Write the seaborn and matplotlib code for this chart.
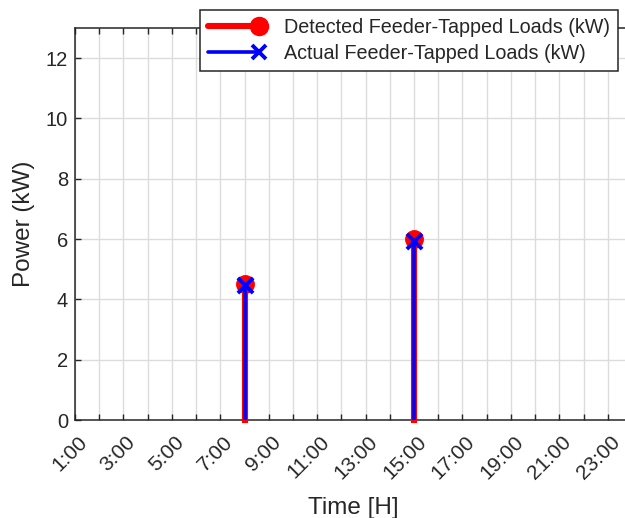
import numpy as np
import pandas as pd
import seaborn as sns
import matplotlib.pyplot as plt
from matplotlib.lines import Line2D
from matplotlib.legend_handler import HandlerLine2D
from matplotlib.transforms import ScaledTranslation

# data
hours = [8, 15]
detected_kw = [4.5, 6.0]
actual_kw = [4.48, 5.95]
tick_hours = list(range(1, 25))
tick_labels = [f"{h}:00" if h % 2 == 1 else "" for h in tick_hours]
legend_labels = ["Detected Feeder-Tapped Loads (kW)", "Actual Feeder-Tapped Loads (kW)"]


class StemHandler(HandlerLine2D):
    # matlab style stem legend: marker at the right end of the line
    def create_artists(self, *args, **kwargs):
        artists = super().create_artists(*args, **kwargs)
        artists[0].set_markevery([2])
        return artists


sns.set_theme(style="whitegrid")
plt.rcParams['font.family'] = ['Liberation Sans', 'DejaVu Sans']
dark = '#262626'

fig = plt.figure(figsize=(6.25, 5.18), dpi=100)
# axes runs a bit past the right edge of the figure, like the reference
ax = fig.add_axes([75 / 625, 1 - 420 / 518, 557 / 625, 392 / 518])

df_det = pd.DataFrame({"hour": hours, "kw": detected_kw})
df_act = pd.DataFrame({"hour": hours, "kw": actual_kw})

red_stems = ax.vlines(df_det["hour"], 0, df_det["kw"], color='red', lw=4.4, zorder=3, clip_on=False)
red_stems.set_capstyle('projecting')
sns.scatterplot(data=df_det, x="hour", y="kw", color='red', marker='o', s=185,
                edgecolor='red', linewidth=0, zorder=4, ax=ax, clip_on=False)
blue_stems = ax.vlines(df_act["hour"], 0, df_act["kw"], color='blue', lw=2.6, zorder=5, clip_on=False)
sns.scatterplot(data=df_act, x="hour", y="kw", color='blue', marker='x', s=120,
                linewidth=2.8, zorder=6, ax=ax, clip_on=False)

ax.set_xlim(1, 24)
ax.set_ylim(0, 13)
ax.set_xticks(tick_hours)
ax.set_xticklabels(tick_labels, rotation=45, ha='right')
ax.set_yticks(np.arange(0, 13, 2))

ax.tick_params(axis='both', direction='in', length=4, width=1, color=dark,
               labelsize=14.5, labelcolor=dark, top=True, bottom=True, left=True, right=True)
ax.tick_params(axis='x', pad=9, labelsize=15)
ax.tick_params(axis='y', pad=5)
# shift the rotated labels right so their end sits past the tick, as matlab does
shift = ScaledTranslation(16 / 100, 0, fig.dpi_scale_trans)
for lab in ax.get_xticklabels():
    lab.set_transform(lab.get_transform() + shift)

ax.grid(True, color='#dcdcdc', lw=1)
for sp in ax.spines.values():
    sp.set_color(dark)
    sp.set_linewidth(1.1)

ax.set_xlabel("Time [H]", fontsize=17.5, color=dark, labelpad=10)
ax.set_ylabel("Power (kW)", fontsize=17.5, color=dark, labelpad=8)

handles = [
    Line2D([], [], color='red', lw=4.4, marker='o', ms=13, markerfacecolor='red', markeredgecolor='red'),
    Line2D([], [], color='blue', lw=2.6, marker='x', ms=10, mew=2.8),
]
leg = ax.legend(handles, legend_labels, loc='upper right',
                bbox_to_anchor=(618 / 625, 1 - 10 / 518), bbox_transform=fig.transFigure,
                borderaxespad=0, fontsize=14.2, frameon=True, fancybox=False, framealpha=1,
                edgecolor=dark, handlelength=2.6, handletextpad=1.25, borderpad=0.4,
                labelspacing=0.35, handler_map={Line2D: StemHandler()})
leg.get_frame().set_linewidth(1.1)
leg.set_zorder(10)

fig.savefig("out.png", dpi=100)
